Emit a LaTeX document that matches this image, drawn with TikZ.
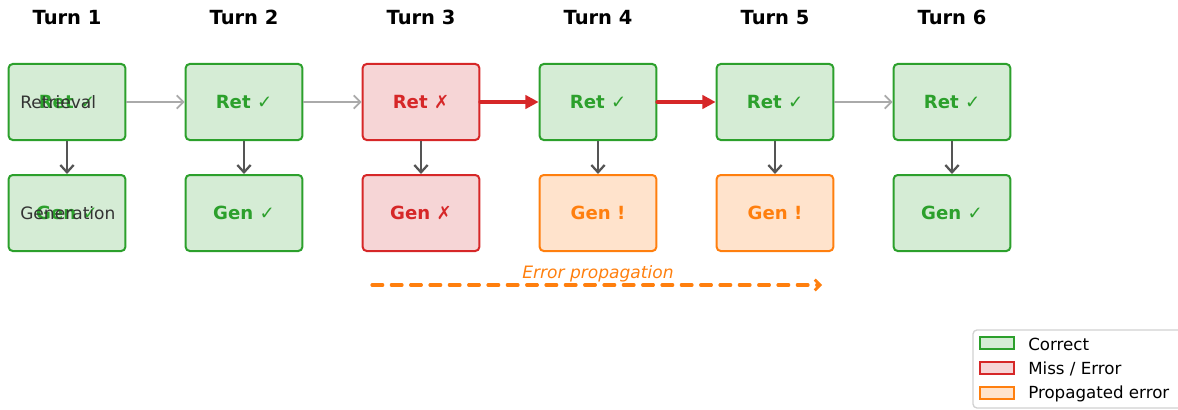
\documentclass[tikz,border=0pt]{standalone}
\usepackage{fontspec}
\setmainfont{DejaVu Sans}
\usetikzlibrary{arrows.meta}
\definecolor{gE}{HTML}{2CA02C}\definecolor{gF}{HTML}{D5ECD5}
\definecolor{rE}{HTML}{D62728}\definecolor{rF}{HTML}{F6D5D6}
\definecolor{oE}{HTML}{FF7F0E}\definecolor{oF}{HTML}{FFE3CC}
\definecolor{dk}{HTML}{555555}\definecolor{lg}{HTML}{AAAAAA}
\newcommand{\ok}{{\mdseries ✓}}
\newcommand{\bad}{{\mdseries ✗}}
\tikzset{
  box/.style={draw, line width=1.5pt, rounded corners=3pt, minimum width=87.5pt, minimum height=57pt, inner sep=0pt, font=\fontsize{13.6}{16}\selectfont\bfseries},
  good/.style={box, draw=gE, fill=gF, text=gE},
  miss/.style={box, draw=rE, fill=rF, text=rE},
  prop/.style={box, draw=oE, fill=oF, text=oE},
  title/.style={anchor=base, inner sep=0pt, font=\fontsize{14.6}{17}\selectfont\bfseries},
  side/.style={anchor=west, text=black!80, font=\fontsize{12.8}{15}\selectfont, inner sep=0pt},
  flow/.style={draw=lg, line width=1.5pt, -{Straight Barb[length=5pt,width=10pt,line width=1.3pt]}},
  down/.style={draw=dk, line width=1.9pt, -{Straight Barb[length=5.5pt,width=10pt,line width=1.7pt]}},
  hot/.style={draw=rE, line width=3pt, line cap=round, -{Triangle[length=10pt,width=10pt]}},
  leg/.style={draw, line width=1.3pt, minimum width=25pt, minimum height=9pt, inner sep=0pt},
  legtxt/.style={anchor=west, font=\fontsize{12.5}{15}\selectfont, inner sep=0pt}
}
\begin{document}
\begin{tikzpicture}[x=0.75pt,y=-0.75pt]
\useasboundingbox (0,0) rectangle (1178,410);
\foreach \i/\x in {1/67,2/244,3/421,4/598,5/775,6/952}
  \node[title] (t\i) at (\x,25) {Turn \i};
\node[good] (r1) at (67,102) {Ret \ok};
\node[good] (r2) at (244,102) {Ret \ok};
\node[miss] (r3) at (421,102) {Ret \bad};
\node[good] (r4) at (598,102) {Ret \ok};
\node[good] (r5) at (775,102) {Ret \ok};
\node[good] (r6) at (952,102) {Ret \ok};
\node[good] (g1) at (67,213) {Gen \ok};
\node[good] (g2) at (244,213) {Gen \ok};
\node[miss] (g3) at (421,213) {Gen \bad};
\node[prop] (g4) at (598,213) {Gen !};
\node[prop] (g5) at (775,213) {Gen !};
\node[good] (g6) at (952,213) {Gen \ok};
\node[side] (lr) at (20,102) {Retrieval};
\node[side] (lgn) at (20,213) {Generation};
\foreach \i in {1,...,6} \draw[down] (r\i) -- (g\i);
\draw[flow] (r1) -- (r2);
\draw[flow] (r2) -- (r3);
\draw[hot] (r3) -- (r4);
\draw[hot] (r4) -- (r5);
\draw[flow] (r5) -- (r6);
\coordinate (ea) at (372,285);
\coordinate (eb) at (822,285);
\draw[draw=oE, line width=2.4pt, line cap=round, dash pattern=on 8pt off 6.5pt, -{Straight Barb[length=4pt,width=8pt,line width=2pt]}] (ea) -- (eb);
\node[text=oE, font=\fontsize{12.8}{15}\selectfont\itshape] (el) at (598,274) {Error propagation};
\draw[draw=black!18, fill=white, line width=1pt, rounded corners=3pt] (973,330) rectangle (1190,408);
\node[leg, draw=gE, fill=gF] (l1) at (997,343) {};
\node[leg, draw=rE, fill=rF] (l2) at (997,368) {};
\node[leg, draw=oE, fill=oF] (l3) at (997,393) {};
\node[legtxt] at (1028,344) {Correct};
\node[legtxt] at (1028,369) {Miss / Error};
\node[legtxt] at (1028,394) {Propagated error};
\end{tikzpicture}
\end{document}
